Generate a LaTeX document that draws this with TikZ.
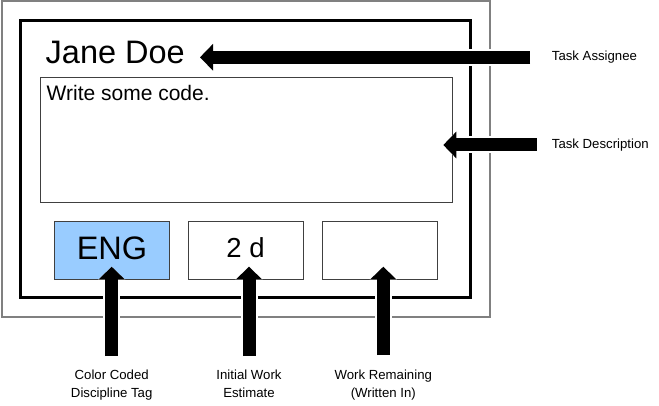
\documentclass[tikz,border=0pt]{standalone}
\usepackage{fontspec}
\setmainfont{Liberation Sans}
\usetikzlibrary{arrows.meta}
\definecolor{tagblue}{HTML}{99CCFF}
\definecolor{framegray}{HTML}{808080}
\definecolor{boxgray}{HTML}{404040}
\begin{document}
\begin{tikzpicture}[x=1pt,y=-1pt,
  outerframe/.style={draw=framegray,line width=2pt},
  innerframe/.style={draw=black,line width=3pt},
  fieldbox/.style={draw=boxgray,line width=1.2pt,fill=white},
  bigarrow/.style={line width=13pt,-{Triangle[width=26pt,length=13pt]},
    preaction={draw=white,line width=17pt,-{Triangle[width=30pt,length=15pt]}}},
  smalllabel/.style={font=\fontsize{13.2}{17.3}\selectfont,align=center,inner sep=0pt}]
\useasboundingbox (0,0) rectangle (659,406);
% card frames
\draw[outerframe] (1.5,1.5) rectangle (490,317);
\draw[innerframe] (20.5,20.5) rectangle (470.5,297.5);
% fields
\node[fieldbox,anchor=north west,minimum width=412pt,minimum height=125pt,inner sep=0pt] (desc) at (40,77) {};
\node[anchor=base west,inner sep=0pt,font=\fontsize{32.5}{32.5}\selectfont] (name) at (45.5,64) {Jane Doe};
\node[anchor=base west,inner sep=0pt,font=\fontsize{21}{21}\selectfont] (desctext) at (46.5,101) {Write some code.};
\node[fieldbox,fill=tagblue,anchor=north west,minimum width=115pt,minimum height=58pt,inner sep=0pt] (eng) at (54,221) {};
\node[anchor=base,inner sep=0pt,font=\fontsize{32.5}{32.5}\selectfont] at (112,260) {ENG};
\node[fieldbox,anchor=north west,minimum width=115pt,minimum height=58pt,inner sep=0pt] (est) at (188,221) {};
\node[anchor=base,inner sep=0pt,font=\fontsize{27.5}{27.5}\selectfont] at (245.5,257.7) {2 d};
\node[fieldbox,anchor=north west,minimum width=115pt,minimum height=58pt,inner sep=0pt] (rem) at (322,221) {};
% labels
\node[smalllabel,anchor=base west] (lassignee) at (551.7,60.7) {Task Assignee};
\node[smalllabel,anchor=base west] (ldesc) at (551.7,148.3) {Task Description};
\node[smalllabel,anchor=north] (ltag) at (111.7,370) {Color Coded\\Discipline Tag};
\node[smalllabel,anchor=north] (lest) at (249,370) {Initial Work\\Estimate};
\node[smalllabel,anchor=north] (lrem) at (383.3,370) {Work Remaining\\(Written In)};
% arrow end points
\coordinate (tipname) at (200,57.3);
\coordinate (tipdesc) at (443.3,145);
\coordinate (tiptag) at (111.7,266.7);
\coordinate (tipest) at (249,266.7);
\coordinate (tiprem) at (383.3,266.7);
% arrows
\draw[bigarrow] (lassignee.west |- tipname) ++(-21.7,0) -- (tipname);
\draw[bigarrow] (ldesc.west |- tipdesc) ++(-15,0) -- (tipdesc);
\draw[bigarrow] (ltag.north -| tiptag) ++(0,-14) -- (tiptag);
\draw[bigarrow] (lest.north -| tipest) ++(0,-14) -- (tipest);
\draw[bigarrow] (lrem.north -| tiprem) ++(0,-15) -- (tiprem);
\end{tikzpicture}
\end{document}
